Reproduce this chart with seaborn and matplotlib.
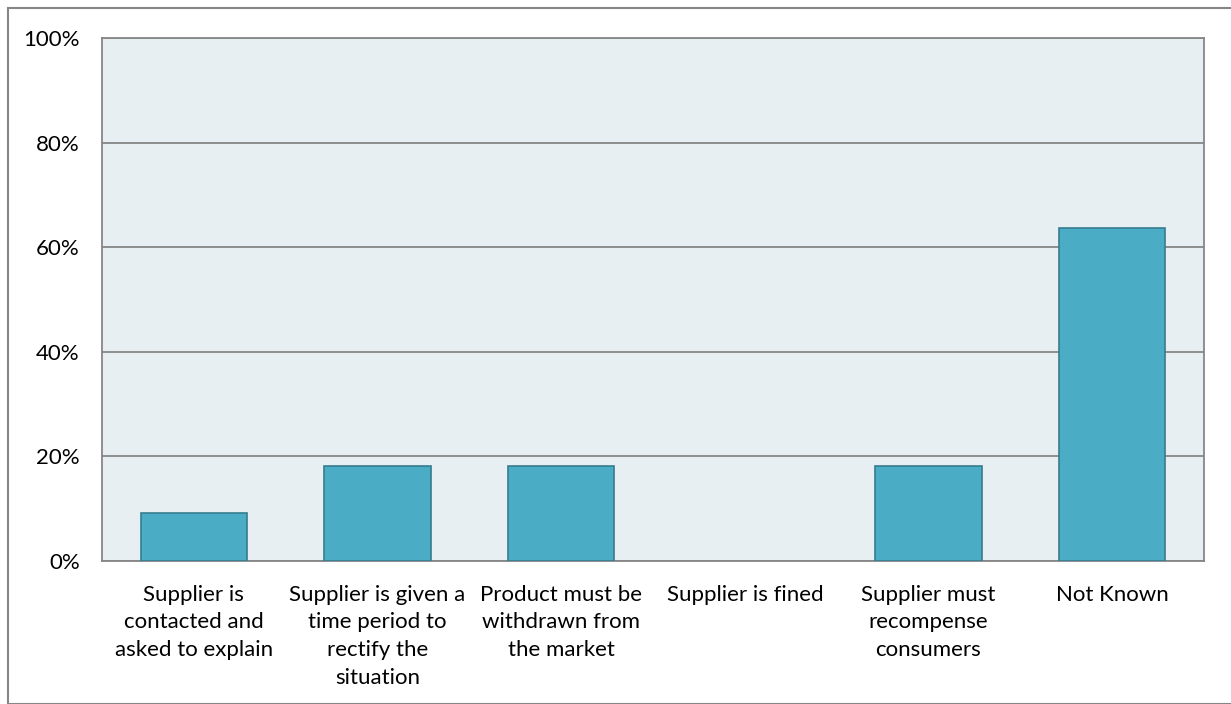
import matplotlib
matplotlib.use("Agg")
import matplotlib.pyplot as plt
import seaborn as sns
import pandas as pd
from matplotlib.patches import Rectangle
from matplotlib.ticker import FuncFormatter

categories = [
    "Supplier is\ncontacted and\nasked to explain",
    "Supplier is given a\ntime period to\nrectify the\nsituation",
    "Product must be\nwithdrawn from\nthe market",
    "Supplier is fined",
    "Supplier must\nrecompense\nconsumers",
    "Not Known",
]
values = [9.09, 18.18, 18.18, 0.0, 18.18, 63.64]
yticks = [0, 20, 40, 60, 80, 100]

sns.set_theme(style="white")
plt.rcParams['font.family'] = ['Lato', 'DejaVu Sans']

W, H = 1231, 704
fig = plt.figure(figsize=(W / 100, H / 100), dpi=100)
ax = fig.add_axes([102 / W, 1 - 561 / H, (1204 - 102) / W, (561 - 38) / H])

df = pd.DataFrame({"cat": categories, "val": values})
sns.barplot(data=df, x="cat", y="val", ax=ax, color="#4bacc6", saturation=1,
            width=0.58, edgecolor="#357d91", linewidth=1.2, zorder=3)
for p in ax.patches:
    if p.get_height() == 0:
        p.set_visible(False)

ax.set_facecolor("#e8eff3")
ax.set_ylim(0, 100)
ax.set_yticks(yticks)
ax.yaxis.set_major_formatter(FuncFormatter(lambda v, p: f"{int(v)}%"))
ax.grid(axis="y", color="#868686", linewidth=1.3, zorder=0)
ax.set_axisbelow(True)
ax.set_xlabel("")
ax.set_ylabel("")
for s in ax.spines.values():
    s.set_color("#868686")
    s.set_linewidth(1.3)
ax.tick_params(axis="both", length=0, labelsize=16, colors="black")
ax.tick_params(axis="x", pad=17)
ax.tick_params(axis="y", pad=16)
for lbl in ax.get_xticklabels():
    lbl.set_linespacing(1.49)
    lbl.set_verticalalignment("top")

fig.patches.append(Rectangle((8 / W, 0), 1.0, 1 - 8 / H, transform=fig.transFigure,
                             fill=False, edgecolor="#868686", linewidth=1.5))

fig.savefig("out.png", dpi=100, facecolor="white")
